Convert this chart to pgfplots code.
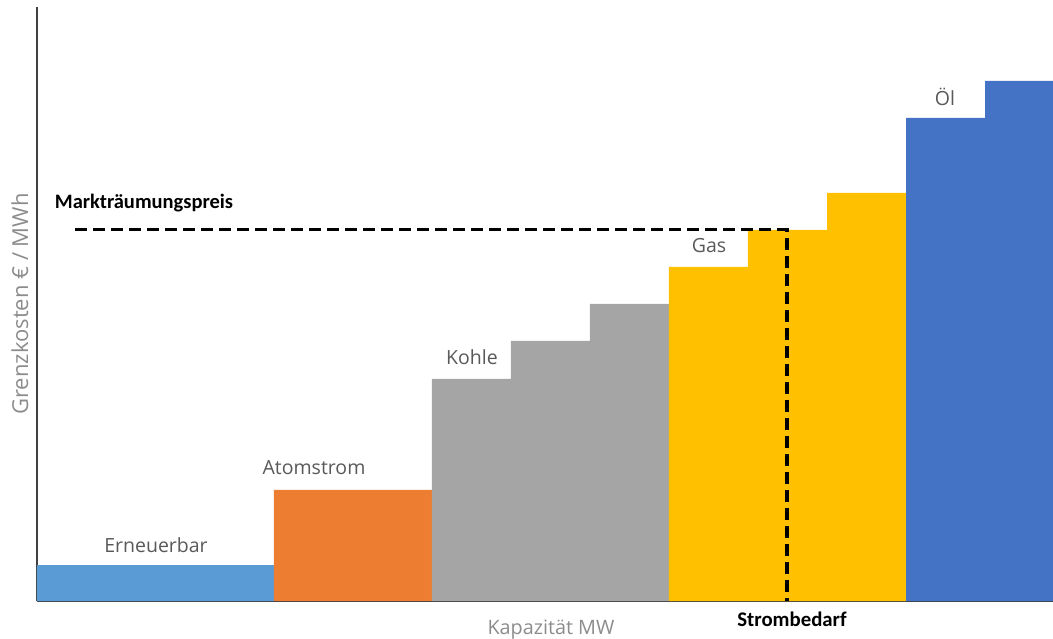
\documentclass[border=0pt]{standalone}
\usepackage{pgfplots}
\pgfplotsset{compat=1.18}
\usepackage{fontspec}
\setmainfont{Open Sans}
\newfontfamily\calibri{Carlito}
\definecolor{cRen}{HTML}{5B9BD5}
\definecolor{cAtom}{HTML}{ED7D31}
\definecolor{cKohle}{HTML}{A5A5A5}
\definecolor{cGas}{HTML}{FFC000}
\definecolor{cOel}{HTML}{4472C4}
\definecolor{txt}{HTML}{595959}
\definecolor{ltxt}{HTML}{8C8C8C}
\begin{document}
\begin{tikzpicture}
\path[use as bounding box] (-37bp,-38bp) rectangle (1016bp,601bp);
\begin{axis}[
  anchor=south west, at={(0,0)},
  scale only axis, width=1016bp, height=594bp,
  xmin=37, xmax=1053, ymin=0, ymax=594,
  axis x line=bottom, axis y line=left,
  axis line style={-, draw=black!75, line width=1.6bp},
  xtick=\empty, ytick=\empty,
  clip=false,
]
\addplot[const plot, fill=cRen, draw=none] coordinates {(37,36)(274,36)} \closedcycle;
\addplot[const plot, fill=cAtom, draw=none] coordinates {(274,111)(432,111)} \closedcycle;
\addplot[const plot, fill=cKohle, draw=none] coordinates {(432,222)(511,260)(590,297)(669,297)} \closedcycle;
\addplot[const plot, fill=cGas, draw=none] coordinates {(669,334)(748,371)(827,408)(906,408)} \closedcycle;
\addplot[const plot, fill=cOel, draw=none] coordinates {(906,483)(985,520)(1053,520)} \closedcycle;
\addplot[black, line width=3bp, dash pattern=on 12bp off 6bp] coordinates {(75,371)(787,371)(787,0)};
\node[txt, font=\fontsize{19.5bp}{22bp}\selectfont] at (axis cs:156,56) {Erneuerbar};
\node[txt, font=\fontsize{19.5bp}{22bp}\selectfont] at (axis cs:314,133) {Atomstrom};
\node[txt, font=\fontsize{19.5bp}{22bp}\selectfont] at (axis cs:472,244) {Kohle};
\node[txt, font=\fontsize{19.5bp}{22bp}\selectfont] at (axis cs:709,355) {Gas};
\node[txt, font=\fontsize{19.5bp}{22bp}\selectfont] at (axis cs:945,504) {Öl};
\node[black, font=\calibri\bfseries\fontsize{20.5bp}{24bp}\selectfont] at (axis cs:144,398) {Markträumungspreis};
\node[black, font=\calibri\bfseries\fontsize{20.8bp}{24bp}\selectfont] at (axis cs:792,-18) {Strombedarf};
\node[ltxt, font=\fontsize{19.8bp}{23bp}\selectfont] at (axis cs:551,-29) {Kapazität MW};
\node[ltxt, rotate=90, font=\fontsize{22bp}{25bp}\selectfont] at (axis cs:20,297) {Grenzkosten € / MWh};
\end{axis}
\end{tikzpicture}
\end{document}
